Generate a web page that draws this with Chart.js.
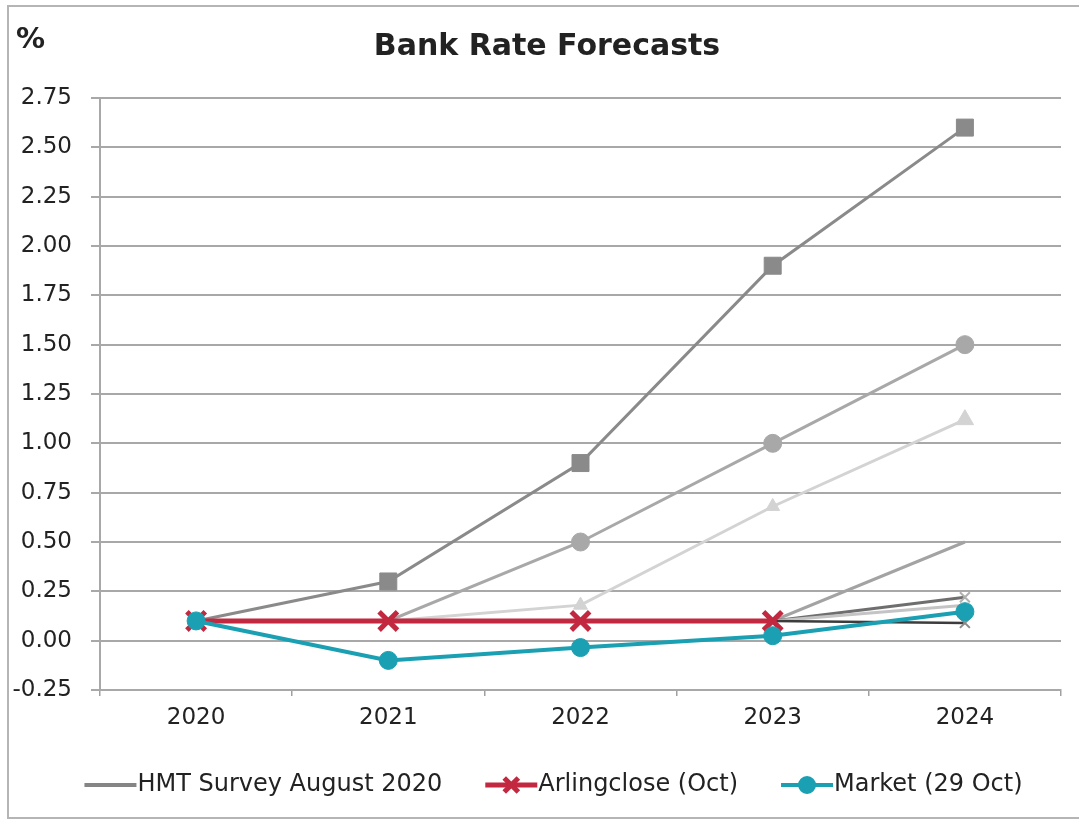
<!DOCTYPE html>
<html>
<head>
<meta charset="utf-8">
<script src="https://cdn.jsdelivr.net/npm/chart.js@4/dist/chart.umd.min.js"></script>
<style>
  html, body { margin: 0; padding: 0; background: #fff; overflow: hidden; }
  #wrap { position: relative; width: 1079px; height: 820px; }
  canvas { display: block; }
</style>
</head>
<body>
<div id="wrap"><canvas id="c" width="1079" height="820"></canvas></div>
<script>
// ---- Data ----
const categories = ['2020', '2021', '2022', '2023', '2024'];
const yTicks = [-0.25, 0, 0.25, 0.5, 0.75, 1, 1.25, 1.5, 1.75, 2, 2.25, 2.5, 2.75];

// HMT Survey August 2020 (individual forecasters)
const hmtSquares   = [0.10, 0.30, 0.90, 1.90, 2.60];
const hmtCircles   = [0.10, 0.10, 0.50, 1.00, 1.50];
const hmtTriangles = [0.10, 0.10, 0.18, 0.68, 1.12];
const hmtPlain     = [0.10, 0.10, 0.10, 0.10, 0.50];
const hmtCrossHigh = [0.10, 0.10, 0.10, 0.10, 0.22];
const hmtLight     = [0.10, 0.10, 0.10, 0.10, 0.18];
const hmtCrossLow  = [0.10, 0.10, 0.10, 0.10, 0.09];

const arlingclose = [0.10, 0.10, 0.10, 0.10, null];
const market      = [0.10, -0.10, -0.035, 0.025, 0.147];

const legendLabels = ['HMT Survey August 2020', 'Arlingclose (Oct)', 'Market (29 Oct)'];

// ---- Styles ----
const RED = '#c2283f';
const TEAL = '#1aa0b2';
const FONT = '"DejaVu Sans", sans-serif';

const datasets = [
  { label: legendLabels[2], data: market, borderColor: TEAL, backgroundColor: TEAL,
    borderWidth: 4, pointStyle: 'circle', pointRadius: 9, pointBorderWidth: 1 },
  { label: legendLabels[1], data: arlingclose, borderColor: RED, backgroundColor: RED,
    borderWidth: 5, pointStyle: 'crossRot', pointRadius: 13, pointBorderWidth: 5 },
  { label: 'hmt7', data: hmtCrossLow, borderColor: '#3c3c3c', backgroundColor: '#8a8a8a',
    borderWidth: 2.5, pointStyle: 'crossRot', pointRadius: [0,0,0,0,7], pointBorderColor: '#8a8a8a', pointBorderWidth: 2 },
  { label: 'hmt6', data: hmtLight, borderColor: '#c4c4c4', backgroundColor: '#c4c4c4',
    borderWidth: 3, pointRadius: 0 },
  { label: 'hmt5', data: hmtCrossHigh, borderColor: '#6e6e6e', backgroundColor: '#b0b0b0',
    borderWidth: 3, pointStyle: 'crossRot', pointRadius: [0,0,0,0,7], pointBorderColor: '#b0b0b0', pointBorderWidth: 2 },
  { label: 'hmt4', data: hmtPlain, borderColor: '#a3a3a3', backgroundColor: '#a3a3a3',
    borderWidth: 3, pointRadius: 0 },
  { label: 'hmt3', data: hmtTriangles, borderColor: '#d3d3d3', backgroundColor: '#d3d3d3',
    borderWidth: 3, pointStyle: 'triangle', pointRadius: [0,0,8,8,10], pointBorderWidth: 1 },
  { label: 'hmt2', data: hmtCircles, borderColor: '#a8a8a8', backgroundColor: '#a8a8a8',
    borderWidth: 3, pointStyle: 'circle', pointRadius: [0,0,9,9,9], pointBorderWidth: 1 },
  { label: 'hmt1', data: hmtSquares, borderColor: '#8a8a8a', backgroundColor: '#8a8a8a',
    borderWidth: 3, pointStyle: 'rect', pointRadius: [0,12,12,12,12], pointBorderWidth: 1 }
];
datasets.forEach(d => { d.tension = 0; d.spanGaps = false; });

// ---- Decorations plugin: frame, "%" label, title, legend ----
const decor = {
  id: 'decor',
  beforeDraw(chart) {
    const ctx = chart.ctx;
    ctx.save();
    ctx.fillStyle = '#fff';
    ctx.fillRect(0, 0, chart.width, chart.height);
    ctx.strokeStyle = '#b5b5b5';
    ctx.lineWidth = 2;
    ctx.beginPath();
    ctx.moveTo(1079, 6); ctx.lineTo(8, 6); ctx.lineTo(8, 818); ctx.lineTo(1079, 818);
    ctx.stroke();
    ctx.restore();
  },
  afterDraw(chart) {
    const ctx = chart.ctx;
    ctx.save();
    ctx.fillStyle = '#222';
    ctx.textBaseline = 'middle';
    ctx.font = 'bold 29px ' + FONT;
    ctx.textAlign = 'left';
    ctx.fillText('%', 16, 40);
    ctx.font = 'bold 30px ' + FONT;
    ctx.textAlign = 'center';
    ctx.fillText('Bank Rate Forecasts', 547, 47);

    // legend
    ctx.font = '24px ' + FONT;
    ctx.textAlign = 'left';
    const y = 785;
    const sw = 52, gap = 44;
    const items = [
      { text: legendLabels[0], color: '#858585', width: 4, marker: null },
      { text: legendLabels[1], color: RED, width: 5, marker: 'crossRot' },
      { text: legendLabels[2], color: TEAL, width: 4, marker: 'circle' }
    ];
    let total = 0;
    items.forEach((it, i) => { it.tw = ctx.measureText(it.text).width; total += sw + it.tw + (i ? gap : 0); });
    let x = 553 - total / 2;
    items.forEach((it, i) => {
      if (i) x += gap;
      ctx.strokeStyle = it.color;
      ctx.lineWidth = it.width;
      ctx.beginPath(); ctx.moveTo(x, y); ctx.lineTo(x + sw, y); ctx.stroke();
      if (it.marker) {
        ctx.fillStyle = it.color;
        Chart.helpers.drawPoint(ctx, {
          pointStyle: it.marker, radius: it.marker === 'circle' ? 7 : 10, rotation: 0,
          borderWidth: it.marker === 'circle' ? 1 : 4
        }, x + sw / 2, y);
      }
      ctx.fillStyle = '#222';
      ctx.fillText(it.text, x + sw + 1, y);
      x += sw + it.tw;
    });
    ctx.restore();
  }
};

new Chart(document.getElementById('c'), {
  type: 'line',
  data: { labels: categories, datasets },
  plugins: [decor],
  options: {
    responsive: false,
    animation: false,
    devicePixelRatio: 1,
    layout: { padding: { top: 98, left: 0, right: 17, bottom: 0 } },
    plugins: { legend: { display: false }, title: { display: false }, tooltip: { enabled: false } },
    scales: {
      x: {
        offset: true,
        grid: { offset: true, drawOnChartArea: false, drawTicks: true, tickLength: 6, color: '#a0a0a0', lineWidth: 1.5 },
        border: { display: true, color: '#a8a8a8', width: 2 },
        ticks: { color: '#222', font: { family: FONT, size: 23 }, padding: 8 },
        afterFit(s) { s.height = 130; }
      },
      y: {
        min: -0.25, max: 2.75,
        afterBuildTicks(s) { s.ticks = yTicks.map(v => ({ value: v })); },
        grid: { color: '#a8a8a8', lineWidth: 2, tickLength: 9 },
        border: { display: true, color: '#a8a8a8', width: 2 },
        ticks: { color: '#222', font: { family: FONT, size: 23 }, padding: 19,
          callback: v => Number(v).toFixed(2) },
        afterFit(s) { s.width = 100; }
      }
    }
  }
});
</script>
</body>
</html>
